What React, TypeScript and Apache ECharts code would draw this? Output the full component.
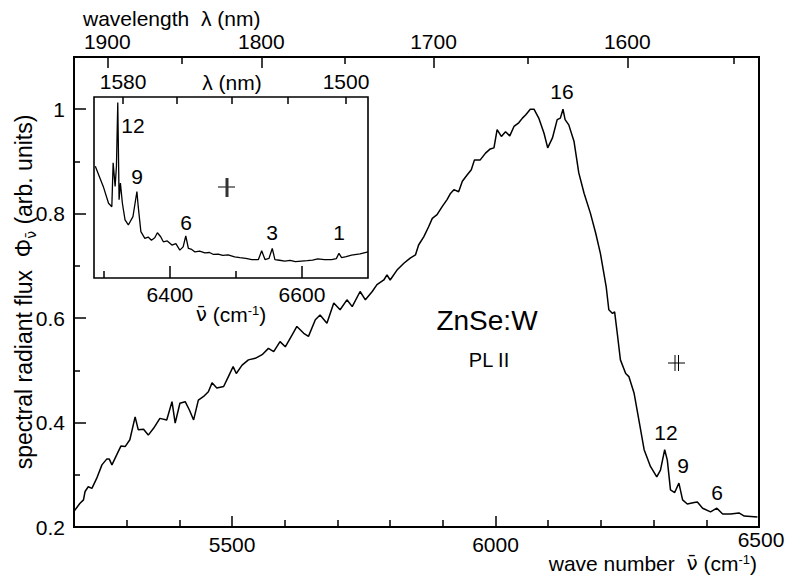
import React, { useEffect, useRef } from 'react';
import * as echarts from 'echarts';

// ---- data ----
const mainWavenumber = [
  5200, 5211, 5218, 5221, 5227, 5234, 5243, 5253, 5262, 5267, 5272, 5281, 5289, 5297, 5306, 5316,
  5322, 5332, 5341, 5351, 5363, 5376, 5386, 5392, 5401, 5411, 5419, 5427, 5436, 5446, 5455, 5462,
  5471, 5484, 5493, 5502, 5508, 5519, 5531, 5544, 5557, 5569, 5579, 5591, 5601, 5614, 5623, 5636,
  5645, 5658, 5667, 5680, 5693, 5705, 5718, 5728, 5743, 5753, 5766, 5775, 5788, 5794, 5800, 5813,
  5826, 5838, 5848, 5854, 5864, 5873, 5880, 5889, 5899, 5908, 5914, 5921, 5930, 5937, 5946, 5954,
  5960, 5971, 5981, 5990, 5997, 6003, 6011, 6019, 6027, 6035, 6044, 6051, 6057, 6066, 6073, 6082,
  6092, 6099, 6108, 6117, 6123, 6128, 6132, 6139, 6149, 6158, 6168, 6180, 6190, 6199, 6210, 6215,
  6222, 6226, 6231, 6237, 6247, 6253, 6263, 6272, 6282, 6294, 6306, 6313, 6321, 6326, 6332, 6340,
  6348, 6355, 6364, 6377, 6383, 6393, 6408, 6420, 6431, 6446, 6462, 6472, 6497,
];
const mainFlux = [
  0.230, 0.245, 0.252, 0.268, 0.277, 0.274, 0.293, 0.319, 0.330, 0.330, 0.319, 0.338, 0.355, 0.354, 0.367, 0.411,
  0.386, 0.387, 0.376, 0.389, 0.408, 0.405, 0.440, 0.399, 0.437, 0.440, 0.424, 0.405, 0.443, 0.450, 0.459, 0.476,
  0.466, 0.469, 0.488, 0.507, 0.494, 0.510, 0.520, 0.523, 0.530, 0.542, 0.536, 0.555, 0.545, 0.568, 0.584, 0.571,
  0.565, 0.597, 0.606, 0.590, 0.629, 0.616, 0.635, 0.622, 0.651, 0.635, 0.651, 0.664, 0.673, 0.683, 0.673, 0.692,
  0.705, 0.715, 0.721, 0.740, 0.756, 0.775, 0.791, 0.798, 0.814, 0.827, 0.838, 0.846, 0.842, 0.862, 0.874, 0.884,
  0.903, 0.903, 0.916, 0.924, 0.926, 0.961, 0.948, 0.957, 0.949, 0.967, 0.974, 0.983, 0.989, 1.000, 1.000, 0.983,
  0.954, 0.926, 0.945, 0.980, 0.983, 1.000, 0.980, 0.970, 0.938, 0.878, 0.839, 0.801, 0.763, 0.724, 0.660, 0.616,
  0.609, 0.612, 0.571, 0.520, 0.494, 0.488, 0.456, 0.405, 0.348, 0.316, 0.296, 0.309, 0.348, 0.328, 0.271, 0.266,
  0.284, 0.252, 0.244, 0.247, 0.248, 0.236, 0.229, 0.236, 0.225, 0.225, 0.227, 0.221, 0.219,
];

const insetWavenumber = [
  6287, 6292, 6299, 6307, 6312, 6314, 6317, 6319, 6321, 6323, 6325, 6328, 6332, 6337, 6344, 6350,
  6352, 6356, 6362, 6367, 6372, 6377, 6381, 6386, 6390, 6396, 6403, 6409, 6415, 6420, 6424, 6428,
  6433, 6438, 6445, 6453, 6460, 6466, 6473, 6480, 6488, 6498, 6506, 6515, 6524, 6534, 6539, 6544,
  6550, 6555, 6559, 6566, 6574, 6582, 6590, 6599, 6608, 6616, 6624, 6634, 6645, 6652, 6656, 6660,
  6667, 6675, 6688, 6700,
];
const insetFlux = [
  0.617, 0.571, 0.506, 0.413, 0.394, 0.636, 0.506, 0.617, 0.969, 0.432, 0.524, 0.413, 0.321, 0.293, 0.339, 0.478,
  0.394, 0.256, 0.219, 0.226, 0.209, 0.222, 0.250, 0.228, 0.200, 0.205, 0.182, 0.190, 0.154, 0.172, 0.232, 0.163,
  0.158, 0.144, 0.148, 0.139, 0.141, 0.130, 0.132, 0.125, 0.128, 0.117, 0.113, 0.109, 0.102, 0.102, 0.150, 0.102,
  0.108, 0.163, 0.102, 0.098, 0.093, 0.097, 0.090, 0.093, 0.096, 0.099, 0.106, 0.101, 0.102, 0.107, 0.136, 0.113,
  0.118, 0.126, 0.133, 0.144,
];

// ---- tick values ----
const bottomMajorTicks = [5500, 6000];
const bottomLabelValues = [5500, 6000];
const bottomEndLabel = '6500';
const bottomMinorTicks = [5300, 5400, 5600, 5700, 5800, 5900, 6100, 6200, 6300, 6400];
const topMajorWavelengths = [1900, 1800, 1700, 1600];
const topMinorWavelengths = [1850, 1750, 1650, 1550];
const fluxMajorTicks = [0.4, 0.6, 0.8, 1];
const fluxLabelValues = [0.2, 0.4, 0.6, 0.8, 1];
const fluxMinorTicks = [0.3, 0.5, 0.7, 0.9];
const insetMajorTicks = [6400, 6600];
const insetMinorTicks = [6300, 6500];
const insetTopWavelengths = [1580, 1560, 1540, 1520, 1500];
const insetTopLabelWavelengths = [1580, 1500];

const FONT = '"Liberation Sans", Arial, Helvetica, sans-serif';
const NUFONT = '"DejaVu Sans", sans-serif';
const toWavenumber = (lambdaNm: number) => 1e7 / lambdaNm;
const toWavelengthLabel = (v: number) => String(Math.round(1e7 / v));
const plain = (v: number) => String(v);

const MAIN = { left: 74, top: 57, width: 685, height: 470 };
const INSET = { left: 94, top: 97, width: 274, height: 181 };

function axis(extra: any) {
  return {
    type: 'value',
    axisLine: { show: false },
    splitLine: { show: false },
    axisTick: { show: false },
    axisLabel: { show: false },
    ...extra,
  };
}
function ticks(values: number[], length: number) {
  return { show: true, inside: true, length, customValues: values, lineStyle: { color: '#000', width: 1.5 } };
}
function labels(values: number[], margin: number, formatter: any = plain) {
  return { show: true, customValues: values, margin, fontSize: 21, color: '#000', fontFamily: FONT, formatter };
}

function txt(text: string, x: number, y: number, size: number, align = 'center', extra: any = {}) {
  return {
    type: 'text',
    x,
    y,
    silent: true,
    style: { text, fill: '#000', fontSize: size, fontFamily: FONT, align, verticalAlign: 'middle', ...extra },
  };
}
function seg(x1: number, y1: number, x2: number, y2: number, w = 1) {
  return { type: 'line', silent: true, shape: { x1, y1, x2, y2 }, style: { stroke: '#000', lineWidth: w } };
}
function unitText(prefix: string, x: number, y: number, align: string) {
  return {
    type: 'text', x, y, silent: true,
    style: {
      text: `{a|${prefix}}{n|ν̄}{a| (cm}{s|-1}{a|)}`, align, verticalAlign: 'middle',
      rich: {
        a: { fontSize: 21, fontFamily: FONT, fill: '#000', lineHeight: 21 },
        n: { fontSize: 20, fontFamily: NUFONT, fill: '#000', lineHeight: 21 },
        s: { fontSize: 13, fontFamily: FONT, fill: '#000', verticalAlign: 'top', lineHeight: 13 },
      },
    },
  };
}

export default function App() {
  const ref = useRef<HTMLDivElement>(null);
  useEffect(() => {
    if (!ref.current) return;
    const chart = echarts.init(ref.current, undefined, { renderer: 'svg' });
    const option: any = {
      animation: false,
      backgroundColor: '#fff',
      grid: [
        { ...MAIN, show: true, borderColor: '#000', borderWidth: 2, backgroundColor: 'transparent' },
        { ...MAIN, show: false },
        { ...INSET, show: true, borderColor: '#000', borderWidth: 1.6, backgroundColor: '#fff' },
        { ...INSET, show: false },
      ],
      xAxis: [
        axis({ gridIndex: 0, min: 5200, max: 6500, position: 'bottom',
          axisTick: ticks(bottomMajorTicks, 11), axisLabel: labels(bottomLabelValues, 7) }),
        axis({ gridIndex: 0, min: 5200, max: 6500, position: 'top',
          axisTick: ticks(topMajorWavelengths.map(toWavenumber), 11),
          axisLabel: labels(topMajorWavelengths.map(toWavenumber), 5, toWavelengthLabel) }),
        axis({ gridIndex: 1, min: 5200, max: 6500, position: 'bottom', axisTick: ticks(bottomMinorTicks, 7) }),
        axis({ gridIndex: 1, min: 5200, max: 6500, position: 'top',
          axisTick: ticks(topMinorWavelengths.map(toWavenumber), 7) }),
        axis({ gridIndex: 2, min: 6285, max: 6700, position: 'bottom',
          axisTick: ticks(insetMajorTicks, 12), axisLabel: labels(insetMajorTicks, 6) }),
        axis({ gridIndex: 2, min: 6285, max: 6700, position: 'top',
          axisTick: ticks(insetTopWavelengths.map(toWavenumber), 7),
          axisLabel: labels(insetTopLabelWavelengths.map(toWavenumber), 5, toWavelengthLabel) }),
        axis({ gridIndex: 3, min: 6285, max: 6700, position: 'bottom', axisTick: ticks(insetMinorTicks, 7) }),
      ],
      yAxis: [
        axis({ gridIndex: 0, min: 0.2, max: 1.1, position: 'left',
          axisTick: ticks(fluxMajorTicks, 12), axisLabel: labels(fluxLabelValues, 9) }),
        axis({ gridIndex: 1, min: 0.2, max: 1.1, position: 'left', axisTick: ticks(fluxMinorTicks, 6) }),
        axis({ gridIndex: 2, min: 0, max: 1 }),
        axis({ gridIndex: 3, min: 0, max: 1 }),
      ],
      series: [
        {
          type: 'line', xAxisIndex: 0, yAxisIndex: 0, z: 3,
          data: mainWavenumber.map((v, i) => [v, mainFlux[i]]),
          showSymbol: false, symbol: 'none',
          lineStyle: { color: '#000', width: 1.5 },
        },
        {
          type: 'line', xAxisIndex: 4, yAxisIndex: 2, z: 5,
          data: insetWavenumber.map((v, i) => [v, insetFlux[i]]),
          showSymbol: false, symbol: 'none',
          lineStyle: { color: '#000', width: 1.3 },
        },
      ],
      graphic: [
        txt('wavelength  λ (nm)', 83, 18, 21, 'left'),
        txt(bottomEndLabel, 761, 539, 21, 'center', { lineHeight: 21 }),
        unitText('wave number  ', 757, 563, 'right'),
        {
          type: 'text', x: 24, y: 292, rotation: Math.PI / 2, silent: true,
          style: {
            text: '{a|spectral radiant flux  Φ}{s|ν̄}{a| (arb. units)}', align: 'center', verticalAlign: 'middle',
            rich: {
              a: { fontSize: 23, fontFamily: FONT, fill: '#000', lineHeight: 27 },
              s: { fontSize: 14, fontFamily: NUFONT, fill: '#000', verticalAlign: 'bottom', lineHeight: 15 },
            },
          },
        },
        txt('λ (nm)', 232, 82, 21),
        unitText('', 231, 314, 'center'),
        txt('ZnSe:W', 487, 320, 28),
        txt('PL II', 489, 360, 20),
        txt('16', 562, 91, 21),
        txt('12', 666, 432, 21),
        txt('9', 683, 465, 21),
        txt('6', 717, 492, 21),
        txt('12', 133, 125, 21),
        txt('9', 137, 176, 21),
        txt('6', 186, 222, 21),
        txt('3', 272, 232, 21),
        txt('1', 339, 232, 21),
        // resolution markers
        seg(668, 363, 685, 363),
        seg(675, 355, 675, 371),
        seg(678.5, 355, 678.5, 371),
        seg(218, 187, 235, 187),
        { type: 'rect', silent: true, shape: { x: 225.5, y: 178, width: 3, height: 19 }, style: { fill: '#333' } },
      ],
    };
    chart.setOption(option);
    return () => chart.dispose();
  }, []);
  return (
    <div
      ref={ref}
      style={{ position: 'absolute', left: 0, top: 0, width: 786, height: 579, background: '#fff' }}
    />
  );
}
